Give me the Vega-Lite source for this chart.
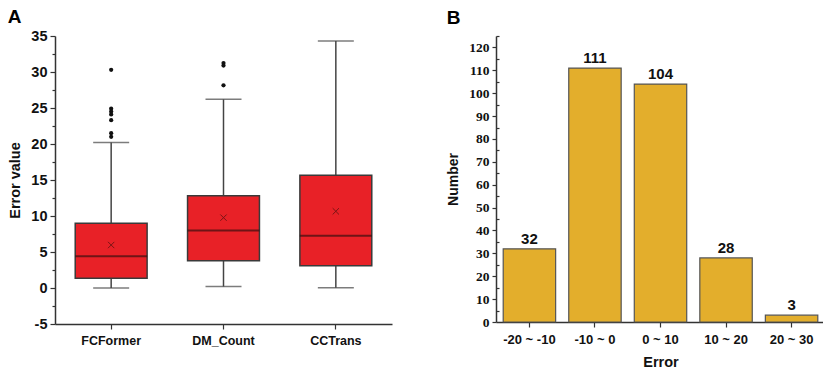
{
  "$schema": "https://vega.github.io/schema/vega-lite/v6.json",
  "background": "white",
  "padding": {"left": 7, "top": 8, "right": 0, "bottom": 0},
  "spacing": 54,
  "config": {
    "view": {"stroke": null},
    "font": "Liberation Sans",
    "axis": {
      "domainColor": "#333333",
      "domainWidth": 1.5,
      "tickColor": "#333333",
      "tickWidth": 1.2,
      "labelColor": "#111111",
      "titleColor": "#111111",
      "labelFont": "Liberation Sans",
      "titleFont": "Liberation Sans",
      "labelFontWeight": "bold",
      "titleFontWeight": "bold",
      "labelOverlap": false,
      "grid": false
    },
    "title": {"font": "Liberation Sans", "fontSize": 19, "fontWeight": "bold", "anchor": "start", "frame": "bounds", "color": "#000000"}
  },
  "datasets": {
    "boxes": [
      {"model": "FCFormer", "lo": 0.0, "q1": 1.34, "med": 4.4, "q3": 8.98, "hi": 20.2, "mean": 5.97},
      {"model": "DM_Count", "lo": 0.2, "q1": 3.8, "med": 8.0, "q3": 12.8, "hi": 26.2, "mean": 9.77},
      {"model": "CCTrans", "lo": 0.05, "q1": 3.1, "med": 7.27, "q3": 15.65, "hi": 34.3, "mean": 10.65}
    ],
    "outliers": [
      {"model": "FCFormer", "value": 30.3},
      {"model": "FCFormer", "value": 24.9},
      {"model": "FCFormer", "value": 24.5},
      {"model": "FCFormer", "value": 24.1},
      {"model": "FCFormer", "value": 23.3},
      {"model": "FCFormer", "value": 21.5},
      {"model": "FCFormer", "value": 21.0},
      {"model": "DM_Count", "value": 31.25},
      {"model": "DM_Count", "value": 30.9},
      {"model": "DM_Count", "value": 28.15}
    ],
    "hist": [
      {"bin": "-20 ~ -10", "count": 32},
      {"bin": "-10 ~ 0", "count": 111},
      {"bin": "0 ~ 10", "count": 104},
      {"bin": "10 ~ 20", "count": 28},
      {"bin": "20 ~ 30", "count": 3}
    ]
  },
  "hconcat": [
    {
      "title": {"text": "A", "offset": 1},
      "width": 337,
      "height": 288,
      "data": {"name": "boxes"},
      "encoding": {
        "x": {"field": "model", "type": "nominal", "sort": null,
              "scale": {"paddingInner": 0, "paddingOuter": 0},
              "axis": {"title": null, "labelAngle": 0, "labelFontSize": 12.5, "labelPadding": 5, "tickSize": 5}},
        "y": {"field": "lo", "type": "quantitative",
              "scale": {"domain": [-5, 35], "nice": false, "zero": false},
              "axis": {"title": "Error value", "titleFontSize": 14.5, "titlePadding": 8, "labelFontSize": 14.5,
                       "labelOverlap": false,
                       "values": [-5, -2.5, 0, 2.5, 5, 7.5, 10, 12.5, 15, 17.5, 20, 22.5, 25, 27.5, 30, 32.5, 35],
                       "labelExpr": "datum.value % 5 === 0 ? replace(datum.label, '\u2212', '-') : ''",
                       "tickSize": {"condition": {"test": "datum.value % 5 !== 0", "value": 3}, "value": 5},
                       "labelPadding": 3}}
      },
      "layer": [
        {
          "mark": {"type": "rule", "color": "#444444", "strokeWidth": 1.5},
          "encoding": {"y2": {"field": "hi"}}
        },
        {
          "mark": {"type": "tick", "color": "#444444", "size": 36, "thickness": 1.5}
        },
        {
          "mark": {"type": "tick", "color": "#444444", "size": 36, "thickness": 1.5},
          "encoding": {"y": {"field": "hi", "type": "quantitative"}}
        },
        {
          "mark": {"type": "bar", "fill": "#E82127", "stroke": "#3a3a3a", "strokeWidth": 1.5, "width": {"band": 0.64}},
          "encoding": {
            "y": {"field": "q1", "type": "quantitative"},
            "y2": {"field": "q3"}
          }
        },
        {
          "mark": {"type": "tick", "color": "#3a1010", "size": 72, "thickness": 2},
          "encoding": {"y": {"field": "med", "type": "quantitative"}}
        },
        {
          "mark": {"type": "point", "shape": "M-1,-1L1,1M-1,1L1,-1", "filled": false, "stroke": "#7a1515", "strokeWidth": 1, "size": 40, "opacity": 1},
          "encoding": {"y": {"field": "mean", "type": "quantitative"}}
        },
        {
          "data": {"name": "outliers"},
          "mark": {"type": "point", "shape": "circle", "filled": true, "color": "#111111", "size": 18, "opacity": 1},
          "encoding": {"y": {"field": "value", "type": "quantitative"}}
        }
      ]
    },
    {
      "title": {"text": "B", "offset": 1},
      "width": 329,
      "height": 286,
      "data": {"name": "hist"},
      "encoding": {
        "x": {"field": "bin", "type": "nominal", "sort": null,
              "scale": {"paddingInner": 0.2, "paddingOuter": 0.11},
              "axis": {"title": "Error", "titleFontSize": 14.5, "titlePadding": 9, "labelAngle": 0, "labelFontSize": 13, "labelPadding": 6, "tickSize": 5}},
        "y": {"field": "count", "type": "quantitative",
              "scale": {"domain": [0, 125], "nice": false},
              "axis": {"title": "Number", "titleFontSize": 14, "titlePadding": 8, "labelFont": "Liberation Serif", "labelFontSize": 13.5,
                       "labelOverlap": false,
                       "values": [0, 5, 10, 15, 20, 25, 30, 35, 40, 45, 50, 55, 60, 65, 70, 75, 80, 85, 90, 95, 100, 105, 110, 115, 120, 125],
                       "labelExpr": "datum.value % 10 === 0 && datum.value <= 120 ? datum.label : ''",
                       "tickSize": {"condition": {"test": "datum.value % 10 !== 0", "value": -3}, "value": 4},
                       "labelPadding": 3}}
      },
      "layer": [
        {
          "mark": {"type": "bar", "fill": "#E3AE2C", "stroke": "#555555", "strokeWidth": 1.2}
        },
        {
          "mark": {"type": "text", "baseline": "bottom", "dy": -2, "fontSize": 15, "fontWeight": "bold", "color": "#111111", "font": "Liberation Sans"},
          "encoding": {"text": {"field": "count", "type": "quantitative"}}
        }
      ]
    }
  ]
}
